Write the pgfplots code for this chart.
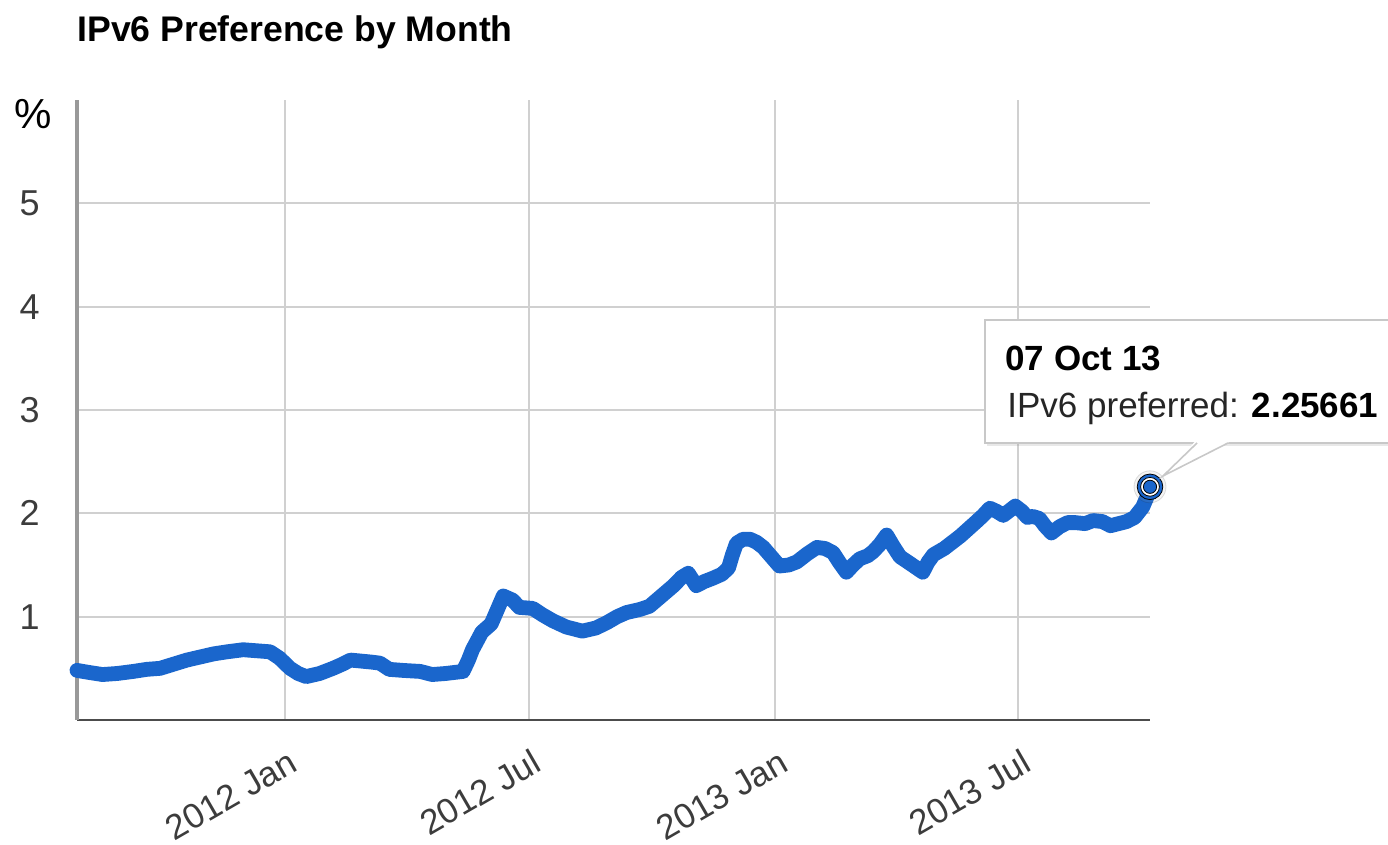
\documentclass[border=0pt]{standalone}
\usepackage{fontspec}
\setmainfont{Liberation Sans}
\usepackage{pgfplots}
\pgfplotsset{compat=1.18}
\usetikzlibrary{shadows}
\definecolor{lineblue}{RGB}{26,102,204}
\definecolor{gridgray}{RGB}{208,208,208}
\definecolor{labelgray}{RGB}{60,60,60}
\definecolor{tipborder}{RGB}{200,200,200}

\begin{document}
\begin{tikzpicture}
\useasboundingbox (-38.5pt,-62.5pt) rectangle (655.5pt,360pt);
\begin{axis}[
  at={(0,0)}, anchor=south west,
  scale only axis, width=536.5pt, height=310pt,
  xmin=-155, xmax=645.5, ymin=0, ymax=6,
  clip=false,
  axis x line=bottom, axis y line=left,
  x axis line style={-, draw=black!70, line width=1.2pt},
  y axis line style={-, draw=black!40, line width=1.6pt},
  xtick={0,182,366,547},
  xticklabels={2012 Jan,2012 Jul,2013 Jan,2013 Jul},
  ytick={1,2,3,4,5},
  major tick length=0pt,
  grid=major,
  major grid style={draw=gridgray, line width=1pt},
  /pgf/number format/assume math mode=true,
  yticklabel style={font=\fontsize{18}{20}\selectfont, text=labelgray, inner sep=0pt, anchor=east, xshift=-18.5pt},
  xticklabel style={font=\fontsize{17.5}{20}\selectfont, text=labelgray, inner sep=0pt, anchor=east, xshift=4.5pt, yshift=-19.5pt, rotate=30},
]
\addplot[color=lineblue, line width=7.4pt, line cap=round, line join=round] coordinates {
(-155,0.48) (-146,0.46) (-136,0.44) (-125,0.45) (-113,0.47) (-103,0.49) (-93,0.50)
(-83,0.54) (-73,0.58) (-63,0.61) (-53,0.64) (-43,0.66) (-31,0.68) (-21,0.67)
(-11,0.66) (-4,0.60) (4,0.50) (10,0.45) (16,0.42) (26,0.45) (36,0.50) (43,0.54)
(49,0.58) (57,0.57) (65,0.56) (71,0.55) (78,0.49) (88,0.48) (101,0.47) (110,0.44)
(120,0.45) (133,0.47) (137,0.58) (140,0.68) (147,0.85) (154,0.93) (158,1.05)
(163,1.20) (170,1.16) (175,1.09) (185,1.08) (192,1.02) (200,0.96) (210,0.90)
(222,0.86) (232,0.89) (240,0.94) (248,1.00) (255,1.04) (265,1.07) (272,1.10)
(281,1.20) (290,1.30) (296,1.38) (301,1.42) (307,1.30) (313,1.34) (319,1.37)
(326,1.41) (331,1.47) (334,1.60) (337,1.71) (342,1.75) (347,1.75) (352,1.72)
(357,1.67) (363,1.58) (369,1.49) (376,1.50) (382,1.53) (390,1.61) (397,1.67)
(403,1.66) (409,1.62) (414,1.52) (419,1.43) (424,1.50) (429,1.56) (435,1.59)
(439,1.63) (444,1.70) (449,1.79) (454,1.68) (459,1.58) (467,1.51) (476,1.43)
(480,1.53) (484,1.60) (492,1.66) (498,1.72) (504,1.78) (510,1.85) (516,1.92)
(521,1.98) (526,2.05) (531,2.02) (536,1.98) (541,2.03) (545,2.07) (550,2.02)
(554,1.96) (558,1.97) (563,1.95) (567,1.88) (572,1.81) (578,1.87) (584,1.91)
(590,1.91) (597,1.90) (603,1.93) (610,1.92) (616,1.88) (622,1.90) (628,1.92)
(634,1.96) (640,2.06) (643,2.15) (645.5,2.25661)
};
\addplot[only marks, mark=*, mark size=8pt, mark options={fill=black!40, draw=none, opacity=0.12}] coordinates {(645.5,2.25661)};
\addplot[only marks, mark=*, mark size=6.4pt, mark options={fill=lineblue, draw=none}] coordinates {(645.5,2.25661)};
\addplot[only marks, mark=*, mark size=4.7pt, mark options={fill=white, draw=none}] coordinates {(645.5,2.25661)};
\addplot[only marks, mark=*, mark size=3.3pt, mark options={fill=lineblue, draw=none}] coordinates {(645.5,2.25661)};
\end{axis}
% title and unit
\node[anchor=base west, inner sep=0pt, font=\fontsize{17.8}{20}\selectfont\bfseries] at (0pt,339pt) {IPv6 Preference by Month};
\node[inner sep=0pt, font=\fontsize{21}{24}\selectfont] at (-22pt,303pt) {\%};
% tooltip
\draw[fill=white, draw=tipborder, line width=0.8pt, drop shadow={opacity=0.18, shadow xshift=1pt, shadow yshift=-1.5pt}] (454pt,138.5pt) rectangle (665pt,200pt);
\fill[white] (559pt,139.2pt) -- (543pt,122pt) -- (576.5pt,139.2pt) -- cycle;
\draw[tipborder, line width=0.8pt] (560pt,138.5pt) -- (543pt,122pt) -- (575.5pt,138.5pt);
\node[anchor=base west, inner sep=0pt, font=\fontsize{17.5}{20}\selectfont\bfseries] at (464pt,174.5pt) {07 Oct 13};
\node[anchor=base west, inner sep=0pt, font=\fontsize{17.5}{20}\selectfont, text=black!85] at (465pt,151pt) {IPv6 preferred: \textbf{\color{black}2.25661}};
\end{tikzpicture}
\end{document}
